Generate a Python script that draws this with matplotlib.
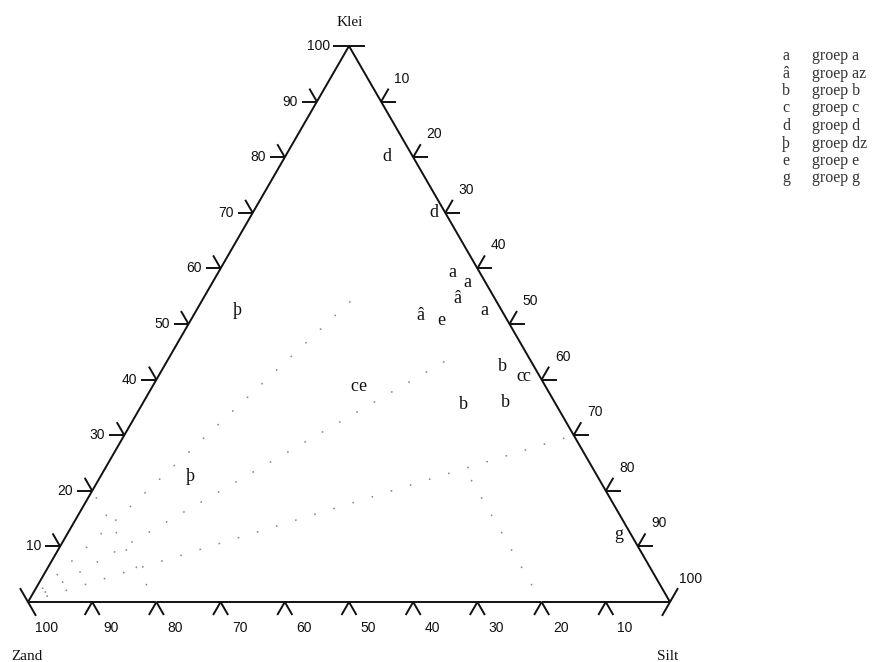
import numpy as np
import matplotlib.pyplot as plt

plt.rcParams['lines.scale_dashes'] = False

# axis tick values (percent)
tick_values = [10, 20, 30, 40, 50, 60, 70, 80, 90, 100]

# groups: legend symbol, legend text
symbols = ["a", "â", "b", "c", "d", "þ", "e", "g"]
names = ["groep a", "groep az", "groep b", "groep c", "groep d", "groep dz", "groep e", "groep g"]

# samples per group (zand, silt, klei in %)
a_zand = [4.3, 2.9, 2.6]
a_silt = [36.4, 39.7, 44.9]
a_klei = [59.3, 57.4, 52.5]

az_zand = [5.9, 13.1]
az_silt = [39.6, 35.3]
az_klei = [54.5, 51.6]

b_zand = [5.0, 14.3, 7.8]
b_silt = [52.7, 50.1, 56.4]
b_klei = [42.3, 35.6, 35.8]

c_zand = [3.1, 2.0, 29.7]
c_silt = [56.4, 57.4, 31.5]
c_klei = [40.5, 40.6, 38.8]

d_zand = [4.0, 1.7]
d_silt = [15.8, 28.2]
d_klei = [80.2, 70.1]

dz_zand = [41.2, 63.5]
dz_silt = [6.3, 14.0]
dz_klei = [52.5, 22.5]

e_zand = [10.3, 28.45]
e_silt = [39.0, 32.75]
e_klei = [50.7, 38.8]

g_zand = [2.0]
g_silt = [85.9]
g_klei = [12.1]

group_data = [
    (a_zand, a_silt, a_klei),
    (az_zand, az_silt, az_klei),
    (b_zand, b_silt, b_klei),
    (c_zand, c_silt, c_klei),
    (d_zand, d_silt, d_klei),
    (dz_zand, dz_silt, dz_klei),
    (e_zand, e_silt, e_klei),
    (g_zand, g_silt, g_klei),
]

# dotted class boundaries: start and end (zand, silt, klei)
bound_start = [(100, 0, 0), (100, 0, 0), (100, 0, 0), (80, 20, 0), (20, 80, 0)]
bound_end = [(20, 24, 56), (12, 44, 44), (0, 70, 30), (80, 0, 20), (20, 56, 24)]


def to_xy(zand, silt, klei):
    zand, silt, klei = np.asarray(zand, float), np.asarray(silt, float), np.asarray(klei, float)
    tot = zand + silt + klei
    s = silt / tot
    k = klei / tot
    return s + k / 2, k * np.sqrt(3) / 2


SIDE = 642.0  # pixels per unit side
px = 1 / SIDE

fig = plt.figure(figsize=(8.73, 6.62), dpi=100)
ax = fig.add_axes([0, 0, 1, 1])
ax.set_xlim(-28 * px, 845 * px)
ax.set_ylim(-60 * px, 602 * px)
ax.axis('off')

serif = 'Liberation Serif'
sans = 'Liberation Sans'
lw = 1.4
col = '#111111'

# triangle
cx, cy = to_xy([100, 0, 0, 100], [0, 100, 0, 0], [0, 0, 100, 0])
ax.plot(cx, cy, color=col, lw=lw, solid_joinstyle='miter')

# dotted boundaries
for st, en in zip(bound_start, bound_end):
    x0, y0 = to_xy(*st)
    x1, y1 = to_xy(*en)
    ax.plot([x0, x1], [y0, y1], color='#8a8a8a', lw=1.3,
            linestyle=(0, (0.1, 14.3)), dash_capstyle='round')


def stroke(p, ang, length=15):
    a = np.radians(ang)
    return [p[0], p[0] + length * px * np.cos(a)], [p[1], p[1] + length * px * np.sin(a)]


def draw_tick(p, angles, length):
    for ang in angles:
        xs, ys = stroke(p, ang, length)
        ax.plot(xs, ys, color=col, lw=lw, solid_capstyle='butt')


for v in tick_values:
    # left edge: klei
    p = to_xy(100 - v, 0, v)
    if v == 100:
        draw_tick(p, [0, 180], 16)
    else:
        draw_tick(p, [180, 120], 15)
    ax.text(p[0] - 19 * px, p[1], str(v), ha='right', va='center',
            fontsize=10, family=sans, color=col)

    # right edge: silt
    p = to_xy(0, v, 100 - v)
    if v == 100:
        draw_tick(p, [60, 240], 16)
    else:
        draw_tick(p, [0, 60], 15)
    ax.text(p[0] + 21 * px, p[1] + 23 * px, str(v), ha='center', va='center',
            fontsize=10, family=sans, color=col)

    # bottom edge: zand
    p = to_xy(v, 100 - v, 0)
    if v == 100:
        draw_tick(p, [120, 300], 16)
    else:
        draw_tick(p, [240, 300], 15)
    ax.text(p[0] + 19 * px, p[1] - 26 * px, str(v), ha='center', va='center',
            fontsize=10, family=sans, color=col)

# corner names
top = to_xy(0, 0, 100)
ax.text(top[0] + 1 * px, top[1] + 24 * px, "Klei", ha='center', va='center',
        fontsize=11, family=serif, color=col)
zc = to_xy(100, 0, 0)
ax.text(zc[0] - 1 * px, zc[1] - 55 * px, "Zand", ha='center', va='center',
        fontsize=11, family=serif, color=col)
sc = to_xy(0, 100, 0)
ax.text(sc[0] - 2 * px, sc[1] - 54 * px, "Silt", ha='center', va='center',
        fontsize=11, family=serif, color=col)

# sample letters
for sym, (zz, ss, kk) in zip(symbols, group_data):
    xs, ys = to_xy(zz, ss, kk)
    for x, y in zip(xs, ys):
        ax.text(x, y, sym, ha='center', va='center', fontsize=13,
                family=serif, color=col)

# legend
W, H = 873.0, 662.0
for i, (sym, name) in enumerate(zip(symbols, names)):
    yy = 1 - (56 + 17.5 * i) / H
    fig.text(786 / W, yy, sym, ha='center', va='center', fontsize=11.5,
             family=serif, color='#333333')
    fig.text(812 / W, yy, name, ha='left', va='center', fontsize=11.5,
             family=serif, color='#333333')

fig.savefig('out.png', dpi=100, facecolor='white')
